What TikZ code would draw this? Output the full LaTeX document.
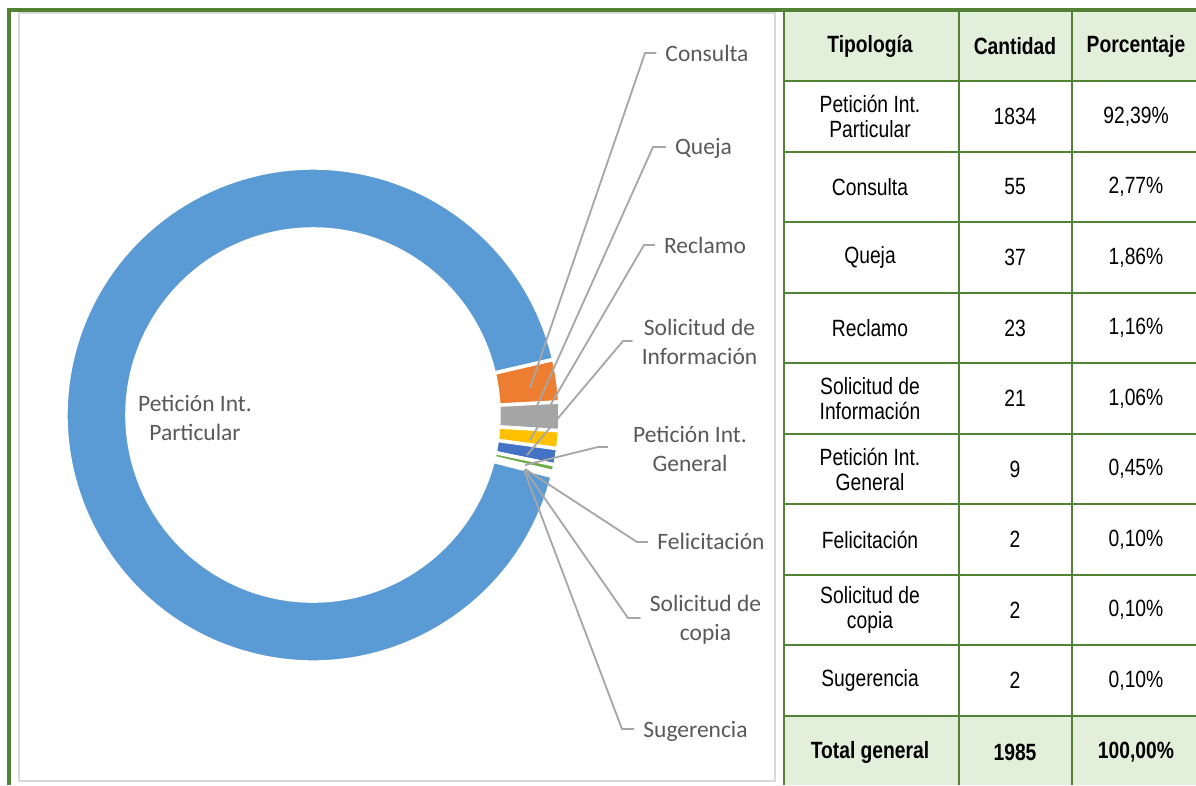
\documentclass[tikz,border=0pt]{standalone}
\usepackage{fontspec}
\setmainfont{Carlito}
\newfontfamily\tablafont[FakeStretch=0.82]{Liberation Sans}
\usetikzlibrary{calc}

\definecolor{verdeborde}{RGB}{84,130,53}
\definecolor{verdefondo}{RGB}{226,239,218}
\definecolor{grisborde}{RGB}{217,217,217}
\definecolor{guiagris}{RGB}{166,166,166}
\definecolor{textogris}{RGB}{89,89,89}
\definecolor{azulpet}{RGB}{91,155,213}
\definecolor{naranja}{RGB}{237,125,49}
\definecolor{grisqueja}{RGB}{165,165,165}
\definecolor{amarillo}{RGB}{255,192,0}
\definecolor{azulsol}{RGB}{68,114,196}
\definecolor{verdepig}{RGB}{112,173,71}

% one slice of the ring: start angle, end angle, colour
\newcommand{\porcion}[3]{%
  \filldraw[fill=#3, draw=white, line width=3.5pt]
    ($(centro)+(#1:247)$) arc[start angle=#1, end angle=#2, radius=247]
    -- ($(centro)+(#2:186)$) arc[start angle=#2, end angle=#1, radius=186] -- cycle;}

\begin{document}
\begin{tikzpicture}[x=1pt, y=-1pt,
    etiqueta/.style={font=\fontsize{23.5}{29}\selectfont, text=textogris, inner xsep=9pt, inner ysep=0pt, align=center},
    guia/.style={draw=guiagris, line width=1.8pt},
    celda/.style={font=\tablafont\fontsize{23.5}{25}\selectfont, inner sep=0pt, align=center},
    cabecera/.style={celda, font=\tablafont\bfseries\fontsize{23.5}{25}\selectfont},
    rejilla/.style={draw=verdeborde, line width=2pt}]
  \useasboundingbox (0,0) rectangle (1196,785);
  \fill[white] (0,0) rectangle (1196,785);

  % chart area
  \draw[grisborde, line width=2pt] (19,13) rectangle (774.5,781);

  % ring
  \coordinate (centro) at (313,415);
  \porcion{14.37}{346.97}{azulpet}
  \porcion{-13.00}{-3.03}{naranja}
  \porcion{-3.03}{3.67}{grisqueja}
  \porcion{3.67}{7.85}{amarillo}
  \porcion{7.85}{11.67}{azulsol}
  \porcion{11.67}{13.29}{verdepig}
  \porcion{13.29}{13.65}{azulpet}
  \porcion{13.65}{14.01}{naranja}
  \porcion{14.01}{14.37}{grisqueja}

  % labels
  \node[etiqueta] (lPart) at (195,418) {Petición Int.\\Particular};
  \node[etiqueta, anchor=base] (lCon) at (707,61) {Consulta};
  \node[etiqueta, anchor=base] (lQue) at (703.5,154) {Queja};
  \node[etiqueta, anchor=base] (lRec) at (705,253) {Reclamo};
  \node[etiqueta] (lSol) at (699.5,341.5) {Solicitud de\\Información};
  \node[etiqueta] (lPig) at (690,448.5) {Petición Int.\\General};
  \node[etiqueta, anchor=base] (lFel) at (711,549) {Felicitación};
  \node[etiqueta] (lCop) at (705.5,619.5) {Solicitud de\\copia};
  \node[etiqueta, anchor=base] (lSug) at (695.5,737) {Sugerencia};

  % leader lines
  \coordinate (aCon) at (530,388);
  \coordinate (aQue) at (531,419);
  \coordinate (aRec) at (530,440);
  \coordinate (aSol) at (527,455);
  \coordinate (aPig) at (525,465);
  \coordinate (aFel) at (525,469);
  \coordinate (aCop) at (525,470);
  \coordinate (aSug) at (524,470);
  \coordinate (tCon) at (645,53);
  \coordinate (tQue) at (653,147);
  \coordinate (tRec) at (644,245);
  \coordinate (tSol) at (623,341);
  \coordinate (tPig) at (598,447);
  \coordinate (tFel) at (637,542);
  \coordinate (tCop) at (628,618);
  \coordinate (tSug) at (622,729);
  \draw[guia] (aCon) -- (tCon) -- (tCon -| lCon.west);
  \draw[guia] (aQue) -- (tQue) -- (tQue -| lQue.west);
  \draw[guia] (aRec) -- (tRec) -- (tRec -| lRec.west);
  \draw[guia] (aSol) -- (tSol) -- (tSol -| lSol.west);
  \draw[guia, shorten >=16pt] (aPig) -- (tPig) -- (tPig -| lPig.west);
  \draw[guia] (aFel) -- (tFel) -- (tFel -| lFel.west);
  \draw[guia] (aCop) -- (tCop) -- (tCop -| lCop.west);
  \draw[guia] (aSug) -- (tSug) -- (tSug -| lSug.west);

  % table
  \fill[verdefondo] (784,12) rectangle (1196,81);
  \fill[verdefondo] (784,716) rectangle (1196,785);
  \draw[rejilla] (784,81) -- (1196,81);
  \draw[rejilla] (784,151.6) -- (1196,151.6);
  \draw[rejilla] (784,222.1) -- (1196,222.1);
  \draw[rejilla] (784,292.7) -- (1196,292.7);
  \draw[rejilla] (784,363.2) -- (1196,363.2);
  \draw[rejilla] (784,433.8) -- (1196,433.8);
  \draw[rejilla] (784,504.3) -- (1196,504.3);
  \draw[rejilla] (784,574.9) -- (1196,574.9);
  \draw[rejilla] (784,645.4) -- (1196,645.4);
  \draw[rejilla] (784,716) -- (1196,716);
  \draw[rejilla] (783.7,12) -- (783.7,785);
  \draw[rejilla] (958.5,12) -- (958.5,785);
  \draw[rejilla] (1072,12) -- (1072,785);
  \draw[verdeborde, line width=4pt] (9,785) -- (9,10) -- (1196,10);

  \node[cabecera] (hTip) at (870,46.5) {Tipología};
  \node[cabecera] (hCan) at (1015,46.5) {Cantidad};
  \node[cabecera] (hPor) at (1136,46.5) {Porcentaje};
  \node[celda] (tip1) at (870,116.3) {Petición Int.\\Particular};
  \node[celda] (can1) at (1015,116.3) {1834};
  \node[celda] (por1) at (1136,116.3) {92,39\%};
  \node[celda] (tip2) at (870,186.9) {Consulta};
  \node[celda] (can2) at (1015,186.9) {55};
  \node[celda] (por2) at (1136,186.9) {2,77\%};
  \node[celda] (tip3) at (870,257.4) {Queja};
  \node[celda] (can3) at (1015,257.4) {37};
  \node[celda] (por3) at (1136,257.4) {1,86\%};
  \node[celda] (tip4) at (870,328) {Reclamo};
  \node[celda] (can4) at (1015,328) {23};
  \node[celda] (por4) at (1136,328) {1,16\%};
  \node[celda] (tip5) at (870,398.5) {Solicitud de\\Información};
  \node[celda] (can5) at (1015,398.5) {21};
  \node[celda] (por5) at (1136,398.5) {1,06\%};
  \node[celda] (tip6) at (870,469) {Petición Int.\\General};
  \node[celda] (can6) at (1015,469) {9};
  \node[celda] (por6) at (1136,469) {0,45\%};
  \node[celda] (tip7) at (870,539.6) {Felicitación};
  \node[celda] (can7) at (1015,539.6) {2};
  \node[celda] (por7) at (1136,539.6) {0,10\%};
  \node[celda] (tip8) at (870,610.1) {Solicitud de\\copia};
  \node[celda] (can8) at (1015,610.1) {2};
  \node[celda] (por8) at (1136,610.1) {0,10\%};
  \node[celda] (tip9) at (870,680.7) {Sugerencia};
  \node[celda] (can9) at (1015,680.7) {2};
  \node[celda] (por9) at (1136,680.7) {0,10\%};
  \node[cabecera] (tTot) at (870,752) {Total general};
  \node[cabecera] (cTot) at (1015,752) {1985};
  \node[cabecera] (pTot) at (1136,752) {100,00\%};
\end{tikzpicture}
\end{document}
